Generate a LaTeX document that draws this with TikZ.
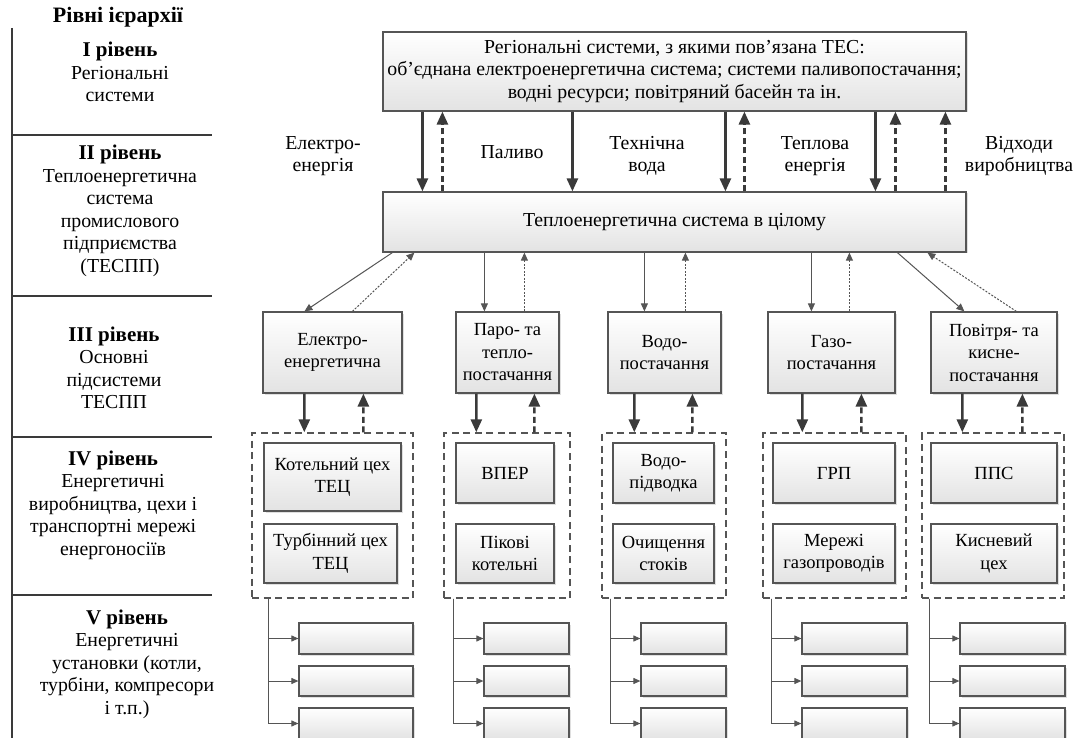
\documentclass[tikz,border=0pt]{standalone}
\usepackage{fontspec}
\setmainfont{Liberation Serif}
\usetikzlibrary{arrows.meta,shadows}
\definecolor{dk}{HTML}{3A3A3A}
\definecolor{ln}{HTML}{555555}
\newcommand\bx[7][]{\node[box,#1, minimum width={#5-#3}, minimum height={#6-#4}] (#2) at ({(#3+#5)/2},{(#4+#6)/2}) {#7};}
\newcommand\gx[5]{\node[grp, minimum width={#4-#2}, minimum height={#5-#3}] (#1) at ({(#2+#4)/2},{(#3+#5)/2}) {};}
\newcommand\hd[1]{{\fontsize{21}{22.5}\selectfont\bfseries #1}}
\begin{document}
\begin{tikzpicture}[x=1pt,y=-1pt,
  every node/.style={font=\fontsize{18.5}{22.5}\selectfont},
  big/.style={font=\fontsize{19.8}{22.5}\selectfont},
  box/.style={draw=ln, line width=1.2pt, top color=white, bottom color=black!11, align=center, inner sep=1pt,
    drop shadow={opacity=0.25, shadow xshift=1.5pt, shadow yshift=-1.5pt}},
  grp/.style={draw=ln, line width=1.4pt, dash pattern=on 7pt off 4.5pt, inner sep=0pt},
  lbl/.style={align=center, inner sep=0pt, big},
  sep/.style={draw=dk, line width=1.6pt},
  thk/.style={draw=dk, line width=2.6pt, -{Triangle[length=13pt,width=11pt]}},
  thkd/.style={thk, dash pattern=on 6pt off 3.5pt},
  thn/.style={draw=ln, line width=1pt, -{Triangle[length=8pt,width=7pt]}},
  thnd/.style={thn, dash pattern=on 2pt off 1.5pt},
  vl/.style={draw=ln, line width=1pt, -{Triangle[length=7pt,width=6pt]}}
]
\useasboundingbox (0,0) rectangle (1074,738);

% left column
\node[lbl, font=\fontsize{22}{22.5}\selectfont\bfseries] (title) at (118,17) {Рівні ієрархії};
\draw[sep] (12,28) -- (12,738);
\draw[sep] (12,135) -- (212,135);
\draw[sep] (12,296) -- (212,296);
\draw[sep] (12,437) -- (212,437);
\draw[sep] (12,595) -- (212,595);
\node[lbl] (L1) at (120,72) {\hd{І рівень}\\Регіональні\\системи};
\node[lbl] (L2) at (120,211) {\hd{ІІ рівень}\\Теплоенергетична\\система\\промислового\\підприємства\\(ТЕСПП)};
\node[lbl] (L3) at (114,368) {\hd{ІІІ рівень}\\Основні\\підсистеми\\ТЕСПП};
\node[lbl] (L4) at (113,505) {\hd{IV рівень}\\Енергетичні\\виробництва, цехи і\\транспортні мережі\\енергоносіїв};
\node[lbl] (L5) at (127,664) {\hd{V рівень}\\Енергетичні\\установки (котли,\\турбіни, компресори\\і т.п.)};

% level I and II
\bx[big]{top}{383}{32}{966}{111}{Регіональні системи, з якими пов’язана ТЕС:\\об’єднана електроенергетична система; системи паливопостачання;\\водні ресурси; повітряний басейн та ін.}
\bx[big]{sys}{383}{192}{966}{252}{Теплоенергетична система в цілому}

\draw[thk]  ([xshift=40pt]top.south west) -- ([xshift=40pt]sys.north west);
\draw[thkd] ([xshift=60pt]sys.north west) -- ([xshift=60pt]top.south west);
\draw[thk]  ([xshift=190pt]top.south west) -- ([xshift=190pt]sys.north west);
\draw[thk]  ([xshift=343pt]top.south west) -- ([xshift=343pt]sys.north west);
\draw[thkd] ([xshift=362pt]sys.north west) -- ([xshift=362pt]top.south west);
\draw[thk]  ([xshift=493pt]top.south west) -- ([xshift=493pt]sys.north west);
\draw[thkd] ([xshift=513pt]sys.north west) -- ([xshift=513pt]top.south west);
\draw[thkd] ([xshift=563pt]sys.north west) -- ([xshift=563pt]top.south west);

\node[lbl] (f1) at (323,156) {Електро-\\енергія};
\node[lbl] (f2) at (512,152) {Паливо};
\node[lbl] (f3) at (647,156) {Технічна\\вода};
\node[lbl] (f4) at (815,156) {Теплова\\енергія};
\node[lbl] (f5) at (1019,156) {Відходи\\виробництва};

% level III
\bx{s1}{263}{312}{402}{393}{Електро-\\енергетична}
\bx{s2}{456}{312}{559}{393}{Паро- та\\тепло-\\постачання}
\bx{s3}{608}{312}{721}{393}{Водо-\\постачання}
\bx{s4}{768}{312}{895}{393}{Газо-\\постачання}
\bx{s5}{931}{312}{1057}{393}{Повітря- та\\кисне-\\постачання}

\draw[thn]  ([xshift=10pt]sys.south west) -- ([xshift=42pt]s1.north west);
\draw[thnd] ([xshift=90pt]s1.north west) -- ([xshift=32pt]sys.south west);
\draw[thn]  ([xshift=102pt]sys.south west) -- ([xshift=29pt]s2.north west);
\draw[thnd] ([xshift=69pt]s2.north west) -- ([xshift=142pt]sys.south west);
\draw[thn]  ([xshift=262pt]sys.south west) -- ([xshift=37pt]s3.north west);
\draw[thnd] ([xshift=78pt]s3.north west) -- ([xshift=303pt]sys.south west);
\draw[thn]  ([xshift=429pt]sys.south west) -- ([xshift=44pt]s4.north west);
\draw[thnd] ([xshift=82pt]s4.north west) -- ([xshift=467pt]sys.south west);
\draw[thn]  ([xshift=515pt]sys.south west) -- ([xshift=34pt]s5.north west);
\draw[thnd] ([xshift=86pt]s5.north west) -- ([xshift=545pt]sys.south west);

% level IV
\gx{g1}{252}{433}{413}{598}
\gx{g2}{444}{433}{570}{598}
\gx{g3}{602}{433}{726}{598}
\gx{g4}{763}{433}{906}{598}
\gx{g5}{922}{433}{1064}{598}

\draw[thk]  ([xshift=42pt]s1.south west) -- ([xshift=53pt]g1.north west);
\draw[thkd] ([xshift=112pt]g1.north west) -- ([xshift=101pt]s1.south west);
\draw[thk]  ([xshift=21pt]s2.south west) -- ([xshift=33pt]g2.north west);
\draw[thkd] ([xshift=91pt]g2.north west) -- ([xshift=79pt]s2.south west);
\draw[thk]  ([xshift=27pt]s3.south west) -- ([xshift=33pt]g3.north west);
\draw[thkd] ([xshift=91pt]g3.north west) -- ([xshift=85pt]s3.south west);
\draw[thk]  ([xshift=35pt]s4.south west) -- ([xshift=40pt]g4.north west);
\draw[thkd] ([xshift=99pt]g4.north west) -- ([xshift=94pt]s4.south west);
\draw[thk]  ([xshift=32pt]s5.south west) -- ([xshift=41pt]g5.north west);
\draw[thkd] ([xshift=101pt]g5.north west) -- ([xshift=92pt]s5.south west);

\bx{a1}{264}{443}{401}{511}{Котельний цех\\ТЕЦ}
\bx{b1}{264}{524}{397}{583}{Турбінний цех\\ТЕЦ}
\bx{a2}{456}{443}{554}{503}{ВПЕР}
\bx{b2}{456}{524}{554}{583}{Пікові\\котельні}
\bx{a3}{613}{443}{714}{503}{Водо-\\підводка}
\bx{b3}{613}{524}{714}{583}{Очищення\\стоків}
\bx{a4}{773}{443}{895}{503}{ГРП}
\bx{b4}{773}{524}{895}{583}{Мережі\\газопроводів}
\bx{a5}{931}{443}{1057}{503}{ППС}
\bx{b5}{931}{524}{1057}{583}{Кисневий\\цех}

% level V
\bx{v1a}{299}{623}{413}{654}{}
\bx{v1b}{299}{666}{413}{696}{}
\bx{v1c}{299}{708}{413}{739}{}
\bx{v2a}{484}{623}{569}{654}{}
\bx{v2b}{484}{666}{569}{696}{}
\bx{v2c}{484}{708}{569}{739}{}
\bx{v3a}{641}{623}{726}{654}{}
\bx{v3b}{641}{666}{726}{696}{}
\bx{v3c}{641}{708}{726}{739}{}
\bx{v4a}{802}{623}{907}{654}{}
\bx{v4b}{802}{666}{907}{696}{}
\bx{v4c}{802}{708}{907}{739}{}
\bx{v5a}{960}{623}{1065}{654}{}
\bx{v5b}{960}{666}{1065}{696}{}
\bx{v5c}{960}{708}{1065}{739}{}

\foreach \g/\d in {1/17,2/10,3/9,4/9,5/8}{
  \draw[vl] ([xshift=\d pt]g\g.south west) |- (v\g a.west);
  \draw[vl] ([xshift=\d pt]g\g.south west) |- (v\g b.west);
  \draw[vl] ([xshift=\d pt]g\g.south west) |- (v\g c.west);
}
\end{tikzpicture}
\end{document}
